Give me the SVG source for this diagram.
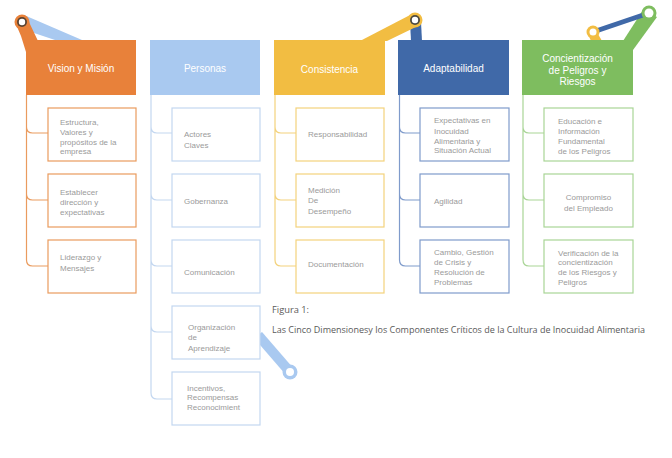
<svg xmlns="http://www.w3.org/2000/svg" width="672" height="458" viewBox="0 0 672 458">
<style>
.hd{font-family:"Liberation Sans",Arial,sans-serif;font-size:10px;fill:#fff;text-anchor:middle}
.tx{font-family:"Liberation Sans",Arial,sans-serif;font-size:8px;fill:#9a9a9a}
.txc{font-family:"Liberation Sans",Arial,sans-serif;font-size:8px;fill:#9a9a9a;text-anchor:middle}
.cap{font-family:"Open Sans","Liberation Sans",sans-serif;font-size:9.5px;fill:#5a5a5a}
.bx{fill:#fff;stroke-width:1.2}
.ln{fill:none;stroke-width:1.2}
.o{stroke:#EA9B5E}.b{stroke:#C3D7F0}.y{stroke:#F3D27C}.d{stroke:#7F9BCB}.g{stroke:#A9D596}
</style>
<rect width="672" height="458" fill="#fff"/>
<g id="decor">
<polygon points="24,15 82,40 55,40 22,29" fill="#A9C9F0"/>
<polygon points="15,22 29,22 38,41 26,52 21,36" fill="#E8813A"/>
<circle cx="22" cy="22" r="7.5" fill="#E8813A"/>
<circle cx="22" cy="22" r="5" fill="#5b4331"/>
<circle cx="22" cy="22" r="3.2" fill="#fff"/>
<polygon points="410,22 421,22 422,41 411,41" fill="#4069A8"/>
<polygon points="360,41 412,14 420,25 387,41" fill="#F2BD42"/>
<circle cx="415" cy="20" r="7.5" fill="#F2BD42"/>
<circle cx="415" cy="20" r="5" fill="#4d4a40"/>
<circle cx="415" cy="20" r="3.2" fill="#fff"/>
<polygon points="623,41 643,10 657,17 633,50" fill="#7EBD5F"/>
<polygon points="588,34 598,34 602,41 591,41" fill="#F2BD42"/>
<line x1="649" y1="13" x2="593" y2="32" stroke="#4069A8" stroke-width="5"/>
<circle cx="649" cy="13" r="7.5" fill="#7EBD5F"/>
<circle cx="649" cy="13" r="4.5" fill="#fff"/>
<circle cx="593" cy="32" r="6.5" fill="#F2BD42"/>
<circle cx="593" cy="32" r="3.5" fill="#fff"/>
<polygon points="262,332 294,369 286,375 254,338" fill="#A9C9F0"/>
<circle cx="290" cy="372" r="7.5" fill="#A9C9F0"/>
<circle cx="290" cy="372" r="4" fill="#fff"/>
</g>
<g id="connectors">
<path class="ln o" d="M26.5,95 V260 Q26.5,266 32.5,266 H48 M26.5,127 Q26.5,133 32.5,133 H48 M26.5,194 Q26.5,200 32.5,200 H48"/>
<path class="ln b" d="M151,95 V393 Q151,399 157,399 H172 M151,127 Q151,133 157,133 H172 M151,194 Q151,200 157,200 H172 M151,260 Q151,266 157,266 H172 M151,326 Q151,332 157,332 H172"/>
<path class="ln y" d="M275,95 V260 Q275,266 281,266 H296 M275,127 Q275,133 281,133 H296 M275,194 Q275,200 281,200 H296"/>
<path class="ln d" d="M399.5,95 V260 Q399.5,266 405.5,266 H420 M399.5,127 Q399.5,133 405.5,133 H420 M399.5,194 Q399.5,200 405.5,200 H420"/>
<path class="ln g" d="M523,95 V260 Q523,266 529,266 H544 M523,127 Q523,133 529,133 H544 M523,194 Q523,200 529,200 H544"/>
</g>
<g id="vision">
<rect x="26" y="40" width="110" height="55" fill="#E8813A"/>
<text class="hd" x="81" y="72">Vision y Misión</text>
</g>
<g id="estructura"><rect class="bx o" x="48" y="108" width="88" height="53"/>
<text class="tx" x="60"><tspan x="60" y="125">Estructura,</tspan><tspan x="60" y="135">Valores y</tspan><tspan x="60" y="145">propósitos de la</tspan><tspan x="60" y="154">empresa</tspan></text></g>
<g id="establecer"><rect class="bx o" x="48" y="174" width="88" height="53"/>
<text class="tx"><tspan x="60" y="195">Establecer</tspan><tspan x="60" y="205">dirección y</tspan><tspan x="60" y="215">expectativas</tspan></text></g>
<g id="liderazgo"><rect class="bx o" x="48" y="240" width="88" height="53"/>
<text class="tx"><tspan x="60" y="260">Liderazgo y</tspan><tspan x="60" y="271">Mensajes</tspan></text></g>

<g id="personas">
<rect x="150" y="40" width="110" height="55" fill="#A9C9F0"/>
<text class="hd" x="205" y="72">Personas</text>
</g>
<g id="actores"><rect class="bx b" x="172" y="108" width="88" height="53"/>
<text class="tx"><tspan x="184" y="137">Actores</tspan><tspan x="184" y="148">Claves</tspan></text></g>
<g id="gobernanza"><rect class="bx b" x="172" y="174" width="88" height="53"/>
<text class="tx" x="184" y="204">Gobernanza</text></g>
<g id="comunicacion"><rect class="bx b" x="172" y="240" width="88" height="53"/>
<text class="tx" x="184" y="275">Comunicación</text></g>
<g id="organizacion"><rect class="bx b" x="172" y="306" width="88" height="53"/>
<text class="tx"><tspan x="188" y="330">Organización</tspan><tspan x="188" y="340">de</tspan><tspan x="188" y="351">Aprendizaje</tspan></text></g>
<g id="incentivos"><rect class="bx b" x="172" y="372" width="88" height="53"/>
<text class="tx"><tspan x="187" y="391">Incentivos,</tspan><tspan x="187" y="400">Recompensas</tspan><tspan x="187" y="410">Reconocimient</tspan></text></g>

<g id="consistencia">
<rect x="274" y="40" width="111" height="55" fill="#F2BD42"/>
<text class="hd" x="329.5" y="73">Consistencia</text>
</g>
<g id="responsabilidad"><rect class="bx y" x="296" y="108" width="88" height="53"/>
<text class="tx" x="308" y="137">Responsabilidad</text></g>
<g id="medicion"><rect class="bx y" x="296" y="174" width="88" height="53"/>
<text class="tx"><tspan x="308" y="193">Medición</tspan><tspan x="308" y="203">De</tspan><tspan x="308" y="214">Desempeño</tspan></text></g>
<g id="documentacion"><rect class="bx y" x="296" y="240" width="88" height="53"/>
<text class="tx" x="308" y="267">Documentación</text></g>

<g id="adaptabilidad">
<rect x="398" y="40" width="111" height="55" fill="#4069A8"/>
<text class="hd" x="453.5" y="72">Adaptabilidad</text>
</g>
<g id="expectativas"><rect class="bx d" x="420" y="108" width="89" height="53"/>
<text class="tx"><tspan x="434" y="123">Expectativas en</tspan><tspan x="434" y="134">Inocuidad</tspan><tspan x="434" y="144">Alimentaria y</tspan><tspan x="434" y="153">Situación Actual</tspan></text></g>
<g id="agilidad"><rect class="bx d" x="420" y="174" width="89" height="53"/>
<text class="tx" x="434" y="204">Agilidad</text></g>
<g id="cambio"><rect class="bx d" x="420" y="240" width="89" height="53"/>
<text class="tx"><tspan x="434" y="255">Cambio, Gestión</tspan><tspan x="434" y="265">de Crisis y</tspan><tspan x="434" y="275">Resolución de</tspan><tspan x="434" y="285">Problemas</tspan></text></g>

<g id="concientizacion">
<rect x="522" y="40" width="111" height="55" fill="#7EBD5F"/>
<text class="hd"><tspan x="577.5" y="62">Concientización</tspan><tspan x="577.5" y="74">de Peligros y</tspan><tspan x="577.5" y="85">Riesgos</tspan></text>
</g>
<g id="educacion"><rect class="bx g" x="544" y="108" width="89" height="53"/>
<text class="tx"><tspan x="558" y="124">Educación e</tspan><tspan x="558" y="134">Información</tspan><tspan x="558" y="144">Fundamental</tspan><tspan x="558" y="154">de los Peligros</tspan></text></g>
<g id="compromiso"><rect class="bx g" x="544" y="174" width="89" height="53"/>
<text class="txc"><tspan x="588.5" y="200">Compromiso</tspan><tspan x="588.5" y="211">del Empleado</tspan></text></g>
<g id="verificacion"><rect class="bx g" x="544" y="240" width="89" height="53"/>
<text class="tx"><tspan x="558" y="256">Verificación de la</tspan><tspan x="558" y="265">concientización</tspan><tspan x="558" y="275">de los Riesgos y</tspan><tspan x="558" y="285">Peligros</tspan></text></g>

<g id="caption">
<text class="cap" x="272" y="313" textLength="37" lengthAdjust="spacingAndGlyphs">Figura 1:</text>
<text class="cap" x="272" y="333" textLength="373" lengthAdjust="spacingAndGlyphs">Las Cinco Dimensionesy los Componentes Críticos de la Cultura de Inocuidad Alimentaria</text>
</g>
</svg>
